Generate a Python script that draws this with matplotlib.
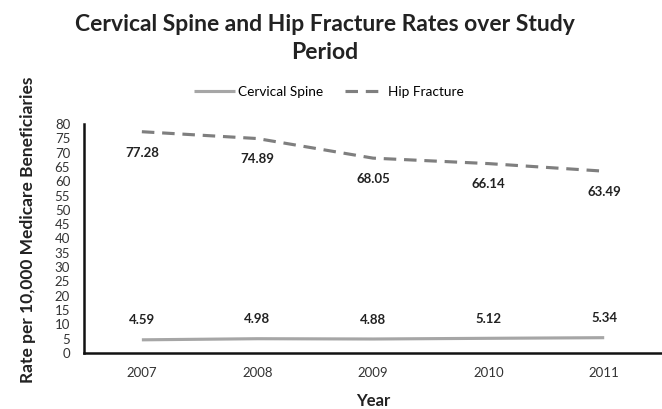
import matplotlib.pyplot as plt

plt.rcParams['font.family'] = ['Lato', 'DejaVu Sans']

years = ['2007', '2008', '2009', '2010', '2011']
cervical = [4.59, 4.98, 4.88, 5.12, 5.34]
hip = [77.28, 74.89, 68.05, 66.14, 63.49]

fig = plt.figure(figsize=(6.62, 4.09), dpi=100)
ax = fig.add_axes([0.127, 0.137, 0.873, 0.56])

x = range(len(years))
ax.plot(x, cervical, color='#a6a6a6', lw=2.25, solid_capstyle='butt', label='Cervical Spine')
ax.plot(x, hip, color='#7f7f7f', lw=2.25, ls=(0, (4, 2.5)), label='Hip Fracture')

# etiket nilai: di atas garis cervical, di bawah garis hip
for i, v in enumerate(cervical):
    ax.annotate(f'{v:.2f}', (i, v), xytext=(0, 14), textcoords='offset points',
                ha='center', va='center', fontsize=9.5, fontweight='bold', color='#222222')
for i, v in enumerate(hip):
    ax.annotate(f'{v:.2f}', (i, v), xytext=(0, -15), textcoords='offset points',
                ha='center', va='center', fontsize=9.5, fontweight='bold', color='#222222')

ax.set_xlim(-0.5, 4.5)
ax.set_ylim(0, 80)
ax.set_yticks(range(0, 81, 5))
ax.set_xticks(list(x))
ax.set_xticklabels(years)
ax.tick_params(axis='both', length=0, labelsize=9.5, colors='#333333')
ax.tick_params(axis='x', pad=10)
ax.tick_params(axis='y', pad=10)
for s in ['top', 'right']:
    ax.spines[s].set_visible(False)
for s in ['left', 'bottom']:
    ax.spines[s].set_linewidth(1.8)
    ax.spines[s].set_color('#111111')

ax.set_xlabel('Year', fontsize=12, fontweight='bold', color='#222222', labelpad=10)
fig.text(0.043, 0.439, 'Rate per 10,000 Medicare Beneficiaries', rotation=90,
         ha='center', va='center', fontsize=12.5, fontweight='bold', color='#222222')

fig.text(0.491, 0.94, 'Cervical Spine and Hip Fracture Rates over Study', ha='center',
         va='center', fontsize=16.5, fontweight='bold', color='#222222')
fig.text(0.491, 0.872, 'Period', ha='center', va='center', fontsize=16.5,
         fontweight='bold', color='#222222')

fig.legend(loc='center', bbox_to_anchor=(0.497, 0.775), ncol=2, frameon=False,
           fontsize=9.8, handlelength=3.0, handletextpad=0.2, columnspacing=1.6)

fig.savefig('out.png', dpi=100)
